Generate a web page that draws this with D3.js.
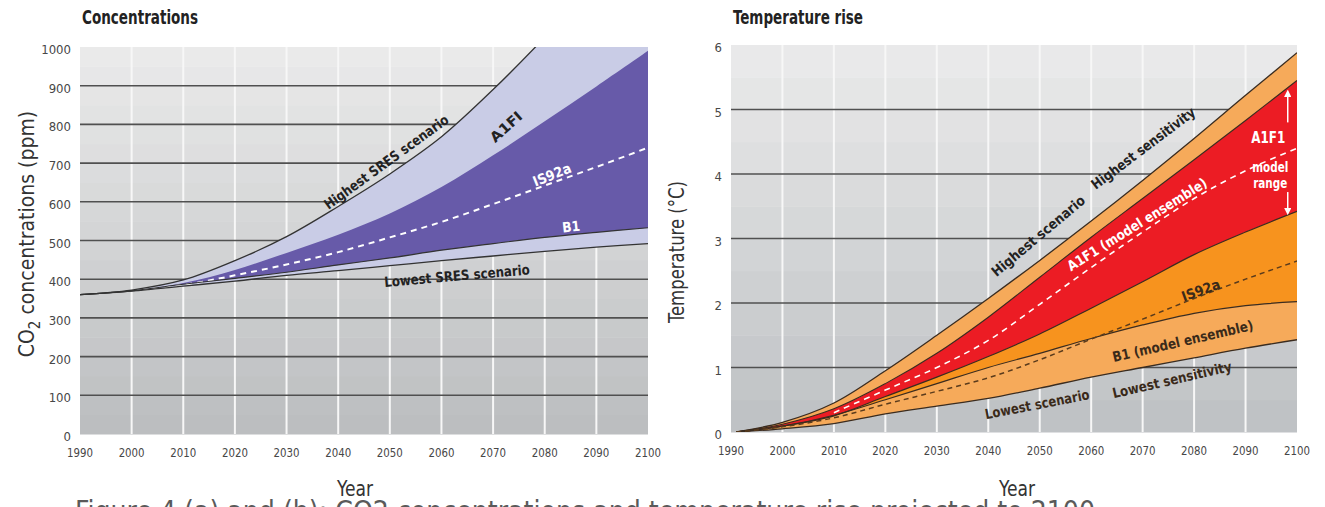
<!DOCTYPE html>
<meta charset="utf-8">
<script src="https://d3js.org/d3.v7.min.js"></script>
<style>
  body { margin: 0; background: #fff; }
  svg { display: block; }
  text { font-family: "DejaVu Sans Condensed", "Liberation Sans Narrow", sans-serif; font-stretch: condensed; }
  .tick { font-size: 13px; fill: #474747; }
  .lab { font-size: 14px; font-weight: bold; }
</style>
<body>
<div id="graph"></div>
</body>
<script>

// ---- Concentrations (ppm) ----
var co2Years    = [1990, 2000, 2010, 2020, 2030, 2040, 2050, 2060, 2070, 2080, 2090, 2100];
var co2Highest  = [360, 372, 398, 448, 510, 588, 672, 768, 890, 1025, 1170, 1330];
var co2A1FI     = [360, 370, 390, 424, 468, 515, 570, 638, 720, 808, 898, 990];
var co2IS92a    = [360, 370, 385, 410, 438, 470, 508, 548, 594, 642, 690, 740];
var co2B1       = [360, 370, 387, 402, 418, 437, 455, 475, 492, 508, 521, 533];
var co2Lowest   = [360, 369, 382, 395, 410, 422, 435, 448, 460, 472, 483, 492];
var co2Ticks    = [0, 100, 200, 300, 400, 500, 600, 700, 800, 900, 1000];

// ---- Temperature rise (deg C) ----
var tYears      = [1991, 2000, 2010, 2020, 2030, 2040, 2050, 2060, 2070, 2080, 2090, 2100];
var tHighest    = [0, 0.15, 0.45, 0.95, 1.5, 2.07, 2.66, 3.27, 3.9, 4.55, 5.22, 5.88];
var tA1FIHigh   = [0, 0.12, 0.36, 0.75, 1.22, 1.78, 2.4, 3.02, 3.62, 4.22, 4.83, 5.45];
var tA1FIMean   = [0, 0.1, 0.3, 0.65, 1.0, 1.42, 1.98, 2.55, 3.1, 3.62, 4.05, 4.4];
var tA1FILow    = [0, 0.09, 0.25, 0.55, 0.85, 1.17, 1.52, 1.92, 2.33, 2.75, 3.1, 3.42];
var tIS92a      = [0, 0.08, 0.22, 0.43, 0.63, 0.84, 1.12, 1.44, 1.75, 2.07, 2.37, 2.65];
var tB1High     = [0, 0.09, 0.26, 0.5, 0.75, 1.0, 1.22, 1.45, 1.66, 1.84, 1.96, 2.02];
var tLowest     = [0, 0.05, 0.13, 0.28, 0.4, 0.52, 0.68, 0.85, 1.0, 1.15, 1.3, 1.43];
var tTicks      = [0, 1, 2, 3, 4, 5, 6];

var yearTicks   = [1990, 2000, 2010, 2020, 2030, 2040, 2050, 2060, 2070, 2080, 2090, 2100];

var svg = d3.select("#graph").append("svg")
    .attr("width", 1325).attr("height", 507);

// plot frame: background bands, grid, tick labels; returns scales + clipped group
function makePanel(id, xr, yr, ymax, ticks, bandTop, bandBot) {
    var x = d3.scaleLinear().domain([1990, 2100]).range(xr);
    var y = d3.scaleLinear().domain([0, ymax]).range(yr);

    // stepped grey background, lighter to the top
    var step = ticks[1] / 2;
    var bands = d3.range(0, ymax, step);
    var col = d3.interpolateRgb(bandBot, bandTop);
    svg.append("g").selectAll("rect").data(bands).enter().append("rect")
        .attr("x", x(1990)).attr("width", x(2100) - x(1990))
        .attr("y", function (d) { return y(d + step); })
        .attr("height", function (d) { return y(d) - y(d + step) + 0.5; })
        .attr("fill", function (d) { return col(d / ymax); });

    // white vertical grid
    svg.append("g").selectAll("line").data(yearTicks.slice(1, -1)).enter().append("line")
        .attr("x1", x).attr("x2", x)
        .attr("y1", y(ymax)).attr("y2", y(0))
        .attr("stroke", "#f7f7f7").attr("stroke-width", 2);

    // dark horizontal grid
    svg.append("g").selectAll("line").data(ticks.slice(1, -1)).enter().append("line")
        .attr("x1", x(1990)).attr("x2", x(2100))
        .attr("y1", y).attr("y2", y)
        .attr("stroke", "#505050").attr("stroke-width", 1.6);

    // tick labels
    svg.append("g").selectAll("text").data(ticks).enter().append("text")
        .attr("class", "tick")
        .attr("x", xr[0] - 9)
        .attr("y", function (d) { return y(d) + 7; })
        .attr("text-anchor", "end")
        .text(function (d) { return d; });
    svg.append("g").selectAll("text").data(yearTicks).enter().append("text")
        .attr("class", "tick")
        .attr("x", x)
        .attr("y", yr[0] + 23)
        .attr("text-anchor", "middle")
        .attr("textLength", 26).attr("lengthAdjust", "spacingAndGlyphs")
        .text(function (d) { return d; });

    svg.append("clipPath").attr("id", id)
        .append("rect")
        .attr("x", x(1990)).attr("y", y(ymax))
        .attr("width", x(2100) - x(1990)).attr("height", y(0) - y(ymax));

    var g = svg.append("g").attr("clip-path", "url(#" + id + ")");
    return { x: x, y: y, g: g };
}

function band(p, years, hi, lo, fill) {
    var area = d3.area()
        .x(function (d, i) { return p.x(years[i]); })
        .y0(function (d, i) { return p.y(lo[i]); })
        .y1(function (d, i) { return p.y(hi[i]); })
        .curve(d3.curveCatmullRom);
    p.g.append("path").datum(years).attr("d", area).attr("fill", fill);
}

function curve(p, years, vals, stroke, width, dash, from) {
    var line = d3.line()
        .defined(function (d, i) { return i >= (from || 0); })
        .x(function (d, i) { return p.x(years[i]); })
        .y(function (d, i) { return p.y(vals[i]); })
        .curve(d3.curveCatmullRom);
    p.g.append("path").datum(years).attr("d", line)
        .attr("fill", "none").attr("stroke", stroke)
        .attr("stroke-width", width)
        .attr("stroke-dasharray", dash || null);
}

function label(p, year, val, angle, txt, fill, len, size) {
    var t = svg.append("text").attr("class", "lab")
        .attr("text-anchor", "middle")
        .attr("dominant-baseline", "central")
        .attr("transform", "translate(" + p.x(year) + "," + p.y(val) + ") rotate(" + angle + ")")
        .attr("fill", fill)
        .text(txt);
    if (len) t.attr("textLength", len).attr("lengthAdjust", "spacingAndGlyphs");
    if (size) t.style("font-size", size + "px");
    return t;
}

// ================= Left: Concentrations =================
var p1 = makePanel("clip1", [80, 648], [434, 47], 1000, co2Ticks, "#ececec", "#bcbec0");

band(p1, co2Years, co2Highest, co2Lowest, "#c9cce6");
band(p1, co2Years, co2A1FI, co2B1, "#675aa9");
curve(p1, co2Years, co2IS92a, "#fff", 2, "6,5", 1);
curve(p1, co2Years, co2Highest, "#333", 1.3);
curve(p1, co2Years, co2B1, "#333", 1.2);
curve(p1, co2Years, co2Lowest, "#333", 1.3);

svg.append("text").attr("x", 82).attr("y", 24)
    .style("font-size", "19px").style("font-weight", "bold").attr("fill", "#222")
    .attr("textLength", 116).attr("lengthAdjust", "spacingAndGlyphs")
    .text("Concentrations");

var yl = svg.append("text")
    .attr("transform", "translate(34,234) rotate(-90)")
    .attr("text-anchor", "middle")
    .style("font-size", "21px").attr("fill", "#333");
yl.append("tspan").text("CO");
yl.append("tspan").attr("dy", 6).style("font-size", "15px").text("2");
yl.append("tspan").attr("dy", -6).text(" concentrations (ppm)");

svg.append("text").attr("x", 355).attr("y", 496).attr("text-anchor", "middle")
    .style("font-size", "22px").attr("fill", "#333")
    .attr("textLength", 36).attr("lengthAdjust", "spacingAndGlyphs").text("Year");

label(p1, 2049.3, 703, -36, "Highest SRES scenario", "#222", 150);
label(p1, 2072.5, 794, -42, "A1FI", "#222", 38);
label(p1, 2081.4, 670, -22, "IS92a", "#fff", 40);
label(p1, 2085.1, 536, -6, "B1", "#fff", 18);
label(p1, 2063, 409, -5, "Lowest SRES scenario", "#222", 146);

// ================= Right: Temperature rise =================
var p2 = makePanel("clip2", [731, 1297], [432, 45], 6, tTicks, "#ededed", "#bfc2c5");

band(p2, tYears, tHighest, tLowest, "#f6aa5a");
band(p2, tYears, tA1FILow, tB1High, "#f7931e");
band(p2, tYears, tA1FIHigh, tA1FILow, "#ec1c24");
curve(p2, tYears, tHighest, "#3a2c20", 1.3);
curve(p2, tYears, tA1FIHigh, "#3a2c20", 1.1);
curve(p2, tYears, tA1FILow, "#3a2c20", 1.2);
curve(p2, tYears, tB1High, "#3a2c20", 1.2);
curve(p2, tYears, tLowest, "#3a2c20", 1.3);
curve(p2, tYears, tIS92a, "#5a3b1c", 1.5, "5,4");
curve(p2, tYears, tA1FIMean, "#fff", 1.6, "6,5", 2);

svg.append("text").attr("x", 733).attr("y", 24)
    .style("font-size", "19px").style("font-weight", "bold").attr("fill", "#222")
    .attr("textLength", 130).attr("lengthAdjust", "spacingAndGlyphs")
    .text("Temperature rise");

svg.append("text")
    .attr("transform", "translate(684,252) rotate(-90)")
    .attr("text-anchor", "middle")
    .style("font-size", "21px").attr("fill", "#333")
    .attr("textLength", 142).attr("lengthAdjust", "spacingAndGlyphs")
    .text("Temperature (°C)");

svg.append("text").attr("x", 1017).attr("y", 496).attr("text-anchor", "middle")
    .style("font-size", "22px").attr("fill", "#333")
    .attr("textLength", 36).attr("lengthAdjust", "spacingAndGlyphs").text("Year");

label(p2, 2049.7, 3.04, -40, "Highest scenario", "#222", 117);
label(p2, 2070.1, 4.4, -37, "Highest sensitivity", "#222", 126);
label(p2, 2068.9, 3.22, -32, "A1F1 (model ensemble)", "#fff", 162);
label(p2, 2081.3, 2.2, -20, "IS92a", "#3a2a1a", 40);
label(p2, 2077.8, 1.41, -13, "B1 (model ensemble)", "#3a2a1a", 144);
label(p2, 2075.7, 0.81, -13, "Lowest sensitivity", "#3a2a1a", 122);
label(p2, 2049.5, 0.43, -11, "Lowest scenario", "#3a2a1a", 106);
label(p2, 2094.4, 4.57, 0, "A1F1", "#fff", 34, 16);
label(p2, 2094.8, 4.11, 0, "model", "#fff", 36, 14);
label(p2, 2094.8, 3.86, 0, "range", "#fff", 34, 14);

// model range arrows
var ax = p2.x(2098.2);
svg.append("defs").append("marker").attr("id", "arr")
    .attr("viewBox", "0 0 10 10").attr("refX", 5).attr("refY", 5)
    .attr("markerWidth", 5).attr("markerHeight", 5).attr("orient", "auto")
    .append("path").attr("d", "M0,0L10,5L0,10z").attr("fill", "#fff");
svg.append("line").attr("x1", ax).attr("x2", ax)
    .attr("y1", p2.y(4.8)).attr("y2", p2.y(5.25))
    .attr("stroke", "#fff").attr("stroke-width", 1.5).attr("marker-end", "url(#arr)");
svg.append("line").attr("x1", ax).attr("x2", ax)
    .attr("y1", p2.y(3.72)).attr("y2", p2.y(3.42))
    .attr("stroke", "#fff").attr("stroke-width", 1.5).attr("marker-end", "url(#arr)");

// figure caption, only its top edge falls inside the picture
svg.append("text").attr("x", 75).attr("y", 521)
    .style("font-size", "28px").attr("fill", "#5a5a5a")
    .attr("textLength", 1020).attr("lengthAdjust", "spacingAndGlyphs")
    .text("Figure 4 (a) and (b): CO2 concentrations and temperature rise projected to 2100");

</script>
